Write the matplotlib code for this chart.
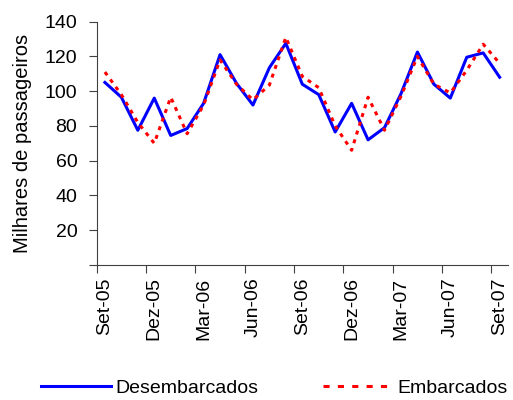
import numpy as np
import matplotlib.pyplot as plt
from matplotlib.lines import Line2D

plt.rcParams['font.family'] = ['Liberation Sans', 'DejaVu Sans']

# meses de Set-05 a Set-07
meses = ['Set-05', 'Out-05', 'Nov-05', 'Dez-05', 'Jan-06', 'Fev-06', 'Mar-06',
         'Abr-06', 'Mai-06', 'Jun-06', 'Jul-06', 'Ago-06', 'Set-06', 'Out-06',
         'Nov-06', 'Dez-06', 'Jan-07', 'Fev-07', 'Mar-07', 'Abr-07', 'Mai-07',
         'Jun-07', 'Jul-07', 'Ago-07', 'Set-07']

desembarcados = [105, 96.5, 77.5, 96, 74.5, 78.5, 93, 121, 104.5, 92, 113.5,
                 127.5, 104, 98, 76.5, 93, 72, 79, 98.5, 122.5, 104, 96,
                 119.5, 122, 108]
embarcados = [111, 98, 82, 70, 96.5, 75.5, 92, 118, 104, 95, 103.5, 131,
              108.5, 102, 80, 66, 96.5, 77.5, 97, 120, 104, 99, 112, 127, 116]

x = np.arange(len(meses))
fs = 14

fig = plt.figure(figsize=(5.13, 4.00), dpi=100)
ax = fig.add_axes([0.1885, 0.3375, 0.8015, 0.6085])

ax.plot(x, desembarcados, color='#0000FF', lw=2.2)
ax.plot(x, embarcados, color='#FF0000', lw=2.2, linestyle=(0, (1.3, 1.7)))

ax.set_xlim(-0.5, len(meses) - 0.5)
ax.set_ylim(0, 140)

# marcas nas fronteiras das categorias, rótulos no centro
ax.set_xticks(np.arange(-0.5, len(meses) - 0.5, 3))
ax.set_xticklabels([])
ax.set_xticks(x[::3], minor=True)
ax.set_xticklabels(meses[::3], minor=True, rotation=90, fontsize=fs)
ax.tick_params(axis='x', which='minor', length=0, pad=9)
ax.tick_params(axis='x', which='major', length=6, direction='out', color='#404040')

yt = np.arange(0, 141, 20)
ax.set_yticks(yt)
ax.set_yticklabels([''] + [str(v) for v in yt[1:]], fontsize=fs)
ax.tick_params(axis='y', length=6, direction='out', color='#404040', pad=8)

ax.set_ylabel('Milhares de passageiros', fontsize=fs + 0.5, labelpad=9)

for s in ['top', 'right']:
    ax.spines[s].set_visible(False)
for s in ['left', 'bottom']:
    ax.spines[s].set_color('#404040')

handles = [Line2D([], [], color='#0000FF', lw=2.2),
           Line2D([], [], color='#FF0000', lw=2.2, linestyle=(0, (2, 2.7)))]
fig.legend(handles, ['Desembarcados', 'Embarcados'], loc='lower left',
           bbox_to_anchor=(0.045, -0.037), ncol=2, frameon=False, fontsize=fs,
           handlelength=3.6, handletextpad=0.25, columnspacing=3.3)

fig.savefig('out.png', dpi=100)
